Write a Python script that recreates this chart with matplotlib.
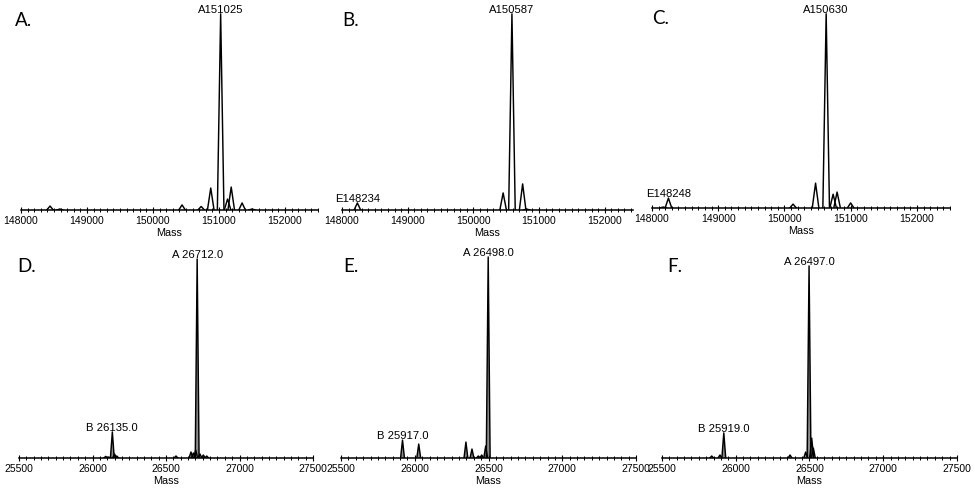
import matplotlib.pyplot as plt
from matplotlib.ticker import MultipleLocator, FormatStrFormatter

plt.rcParams['font.family'] = ['Liberation Sans', 'DejaVu Sans']

W, H = 975, 489

# Panel A - intact antibody, deconvoluted mass
a_mass = [148440, 148590, 150440, 150730, 150875, 151025, 151130, 151185, 151350, 151500]
a_int = [2.0, 0.5, 2.6, 1.8, 11.2, 100, 5.6, 11.7, 3.6, 0.5]
a_labels = [(151025, "A151025")]

# Panel B
b_mass = [148234, 150453, 150587, 150750, 150810]
b_int = [3.6, 8.7, 100, 13.3, 0.5]
b_labels = [(148234, "E148234"), (150587, "A150587")]

# Panel C
c_mass = [148170, 148248, 150130, 150470, 150630, 150735, 150795, 151000]
c_int = [0.5, 5.1, 2.0, 12.8, 100, 7.1, 8.2, 2.6]
c_labels = [(148248, "E148248"), (150630, "A150630")]

# Panel D - light/heavy chain region
d_mass = [26090, 26110, 26135, 26150, 26165, 26568, 26670, 26686, 26702, 26712,
          26731, 26754, 26777]
d_int = [0.8, 0.5, 13.1, 2.0, 1.0, 1.0, 3.0, 2.5, 4.0, 100, 2.0, 1.5, 1.0]
d_labels = [(26135, "B 26135.0"), (26712, "A 26712.0")]

# Panel E
e_mass = [25917, 26027, 26347, 26388, 26431, 26454, 26481, 26498]
e_int = [9.0, 7.0, 8.0, 4.5, 1.0, 1.5, 6.0, 101]
e_labels = [(25917, "B 25917.0"), (26498, "A 26498.0")]

# Panel F
f_mass = [25837, 25893, 25919, 26368, 26474, 26497, 26515, 26526]
f_int = [1.0, 1.5, 12.6, 1.5, 3.0, 96.5, 10.0, 5.0]
f_labels = [(25919, "B 25919.0"), (26497, "A 26497.0")]


def add_panel(fig, box, xlim, major, minor, mass, inten, labels, hw, fill):
    # box is (left, right, bottom, top) in pixels from the top-left corner
    x0, x1, yb, yt = box
    ax = fig.add_axes([x0 / W, (H - yb) / H, (x1 - x0) / W, (yb - yt) / H])
    peak_of = dict(zip(mass, inten))
    for m, h in zip(mass, inten):
        xs = [m - hw, m, m + hw]
        ys = [0, h, 0]
        if fill:
            ax.fill(xs, ys, color='0.55', lw=0)
        ax.plot(xs, ys, color='black', lw=1.05)
    for m, txt in labels:
        ax.annotate(txt, xy=(m, peak_of[m]), xytext=(0, 0),
                    textcoords='offset points', ha='center', va='bottom',
                    fontsize=8.1)
    ax.set_xlim(*xlim)
    ax.set_ylim(0, 104)
    for s in ['left', 'right', 'top']:
        ax.spines[s].set_visible(False)
    ax.spines['bottom'].set_linewidth(1.1)
    ax.set_yticks([])
    ax.xaxis.set_major_locator(MultipleLocator(major))
    ax.xaxis.set_minor_locator(MultipleLocator(minor))
    ax.xaxis.set_major_formatter(FormatStrFormatter('%d'))
    ax.tick_params(axis='x', which='major', direction='inout', length=4,
                   width=0.8, labelsize=7.5, pad=1.8)
    ax.tick_params(axis='x', which='minor', direction='inout', length=2.5,
                   width=0.7)
    ax.set_xlabel("Mass", fontsize=7.8, labelpad=1.5)
    ax.patch.set_alpha(0)
    return ax


fig = plt.figure(figsize=(W / 100, H / 100), dpi=100)

add_panel(fig, (21, 318, 211, 7), (148000, 152500), 1000, 100,
          a_mass, a_int, a_labels, 50, False)
add_panel(fig, (342, 633, 211, 7), (148000, 152430), 1000, 100,
          b_mass, b_int, b_labels, 50, False)
add_panel(fig, (652, 950, 209, 7), (148000, 152500), 1000, 100,
          c_mass, c_int, c_labels, 50, False)
add_panel(fig, (19, 313, 459, 252), (25500, 27500), 500, 50,
          d_mass, d_int, d_labels, 13, True)
add_panel(fig, (341, 636, 459, 252), (25500, 27500), 500, 50,
          e_mass, e_int, e_labels, 13, True)
add_panel(fig, (662, 957, 459, 252), (25500, 27500), 500, 50,
          f_mass, f_int, f_labels, 13, True)

# panel letters
letters = ["A.", "B.", "C.", "D.", "E.", "F."]
letter_xy = [(15, 21), (342, 20), (652, 19), (17, 267), (343, 266), (667, 267)]
for txt, (px, py) in zip(letters, letter_xy):
    fig.text(px / W, 1 - py / H, txt, fontsize=13.5, family='Lato',
             ha='left', va='center')

fig.savefig("out.png", dpi=100)
